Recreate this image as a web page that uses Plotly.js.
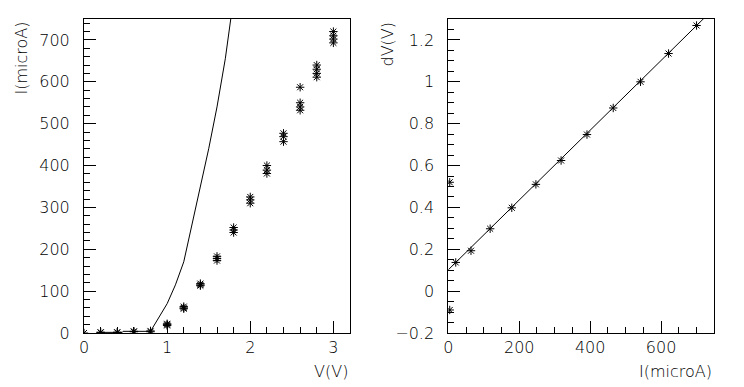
<!DOCTYPE html>
<html>
<head>
<meta charset="utf-8">
<script src="https://cdn.plot.ly/plotly-3.0.1.min.js"></script>
<style>html,body{margin:0;padding:0;background:#fff;}#chart{width:744px;height:387px;}</style>
</head>
<body>
<div id="chart"></div>
<script>
// Left panel: measured I(V) points
const measV = [0,
  0.2, 0.2, 0.4, 0.4, 0.6, 0.6, 0.8, 0.8,
  1.0, 1.0, 1.0,
  1.2, 1.2, 1.2,
  1.4, 1.4, 1.4,
  1.6, 1.6, 1.6,
  1.8, 1.8, 1.8,
  2.0, 2.0, 2.0,
  2.2, 2.2, 2.2,
  2.4, 2.4, 2.4,
  2.6, 2.6, 2.6, 2.6,
  2.8, 2.8, 2.8, 2.8,
  3.0, 3.0, 3.0, 3.0];
const measI = [0,
  1, 2, 1, 2, 3, 4, 3, 5,
  18, 20, 22,
  58, 60, 63,
  113, 115, 118,
  173, 178, 183,
  240, 246, 252,
  310, 318, 325,
  381, 389, 400,
  457, 469, 477,
  532, 540, 550, 587,
  611, 620, 630, 640,
  693, 702, 710, 720];
// Left panel: model curve
const curveV = [0.2, 0.46, 0.47, 0.8, 1.0, 1.1, 1.2, 1.3, 1.4, 1.5, 1.6, 1.7, 1.8];
const curveI = [1.5, 1.5, 4, 4, 70, 115, 170, 258, 345, 440, 540, 655, 800];
// Right panel: dV vs I points
const ptI  = [4, 4, 21, 64, 118, 179, 247, 318, 391, 465, 542, 621, 700];
const ptDV = [0.52, -0.09, 0.137, 0.193, 0.298, 0.398, 0.51, 0.624, 0.748, 0.875, 1.0, 1.135, 1.269];
// Right panel: fitted straight line (end points)
const fitI  = [0, 750];
const fitDV = [0.102, 1.352];

const font = {family: 'DejaVu Sans', size: 16, color: '#000', weight: 300};
const mk = {symbol: 'asterisk-open', size: 7, color: '#000', line: {color: '#000', width: 1}};

const traces = [
  {x: curveV, y: curveI, mode: 'lines', line: {color: '#000', width: 1}, xaxis: 'x', yaxis: 'y', hoverinfo: 'skip'},
  {x: measV, y: measI, mode: 'markers', marker: mk, xaxis: 'x', yaxis: 'y', cliponaxis: true},
  {x: fitI, y: fitDV, mode: 'lines', line: {color: '#000', width: 1}, xaxis: 'x2', yaxis: 'y2'},
  {x: ptI, y: ptDV, mode: 'markers', marker: mk, xaxis: 'x2', yaxis: 'y2', cliponaxis: true}
];

function ax(dom, range, dtick, minorDtick, anchor, standoff) {
  return {
    domain: dom, range: range, anchor: anchor, autorange: false,
    showgrid: false, zeroline: false,
    showline: true, mirror: true, linecolor: '#000', linewidth: 1,
    ticks: 'inside', ticklen: 12, tickwidth: 1, tickcolor: '#000',
    tick0: 0, dtick: dtick,
    minor: {dtick: minorDtick, tick0: 0, ticks: 'inside', ticklen: 6, tickcolor: '#000', tickwidth: 1, showgrid: false},
    tickfont: font, automargin: false, fixedrange: true,
    ticklabelstandoff: standoff
  };
}

const W = 744, H = 387;
const yDom = [1 - 333/H, 1 - 19/H];
const layout = {
  width: W, height: H,
  margin: {l: 0, r: 0, t: 0, b: 0},
  paper_bgcolor: '#fff', plot_bgcolor: '#fff',
  showlegend: false,
  font: font,
  xaxis: ax([84/W, 350/W], [0, 3.2], 1, 0.2, 'y', 0),
  yaxis: ax(yDom, [0, 750], 100, 20, 'x', 10),
  xaxis2: ax([448.3/W, 714.3/W], [0, 750], 200, 50, 'y2', 0),
  yaxis2: ax(yDom, [-0.2, 1.3], 0.2, 0.05, 'x2', 10),
  annotations: [
    {text: 'I(microA)', xref: 'paper', yref: 'paper', x: 21/W, y: 1 - 20/H, xanchor: 'center', yanchor: 'top', textangle: -90, showarrow: false, font: font},
    {text: 'V(V)', xref: 'paper', yref: 'paper', x: 350/W, y: 1 - 371/H, xanchor: 'right', yanchor: 'middle', showarrow: false, font: font},
    {text: 'dV(V)', xref: 'paper', yref: 'paper', x: 387/W, y: 1 - 20/H, xanchor: 'center', yanchor: 'top', textangle: -90, showarrow: false, font: font},
    {text: 'I(microA)', xref: 'paper', yref: 'paper', x: 714.3/W, y: 1 - 371/H, xanchor: 'right', yanchor: 'middle', showarrow: false, font: font}
  ]
};

Plotly.newPlot('chart', traces, layout, {staticPlot: true, displayModeBar: false});
</script>
</body>
</html>
